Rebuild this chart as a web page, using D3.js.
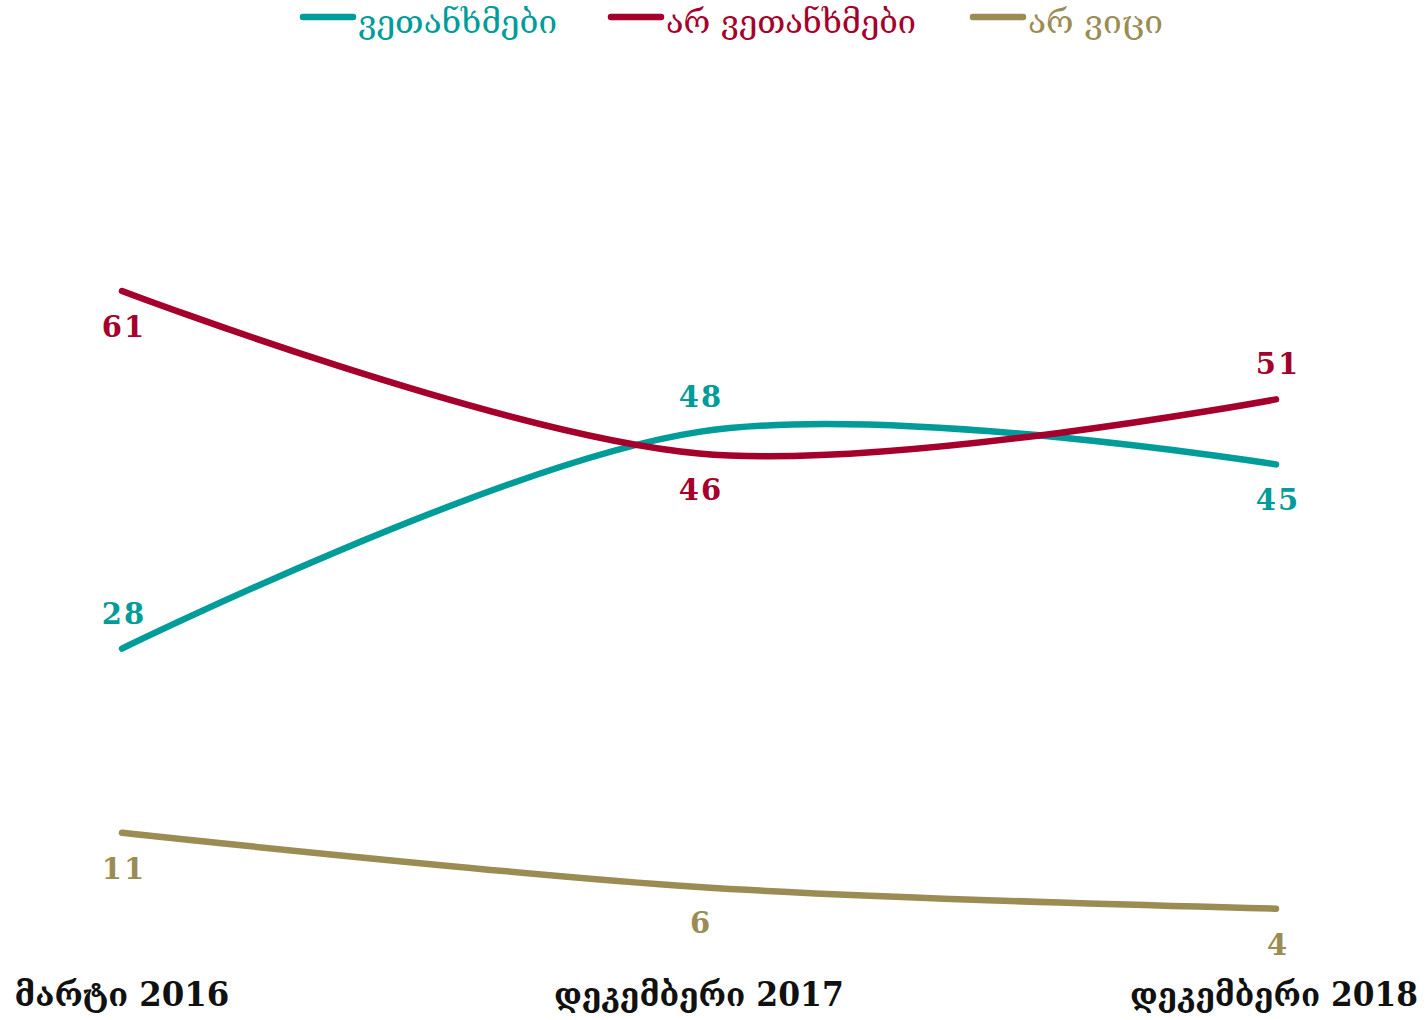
<!DOCTYPE html>
<html>
<head>
<meta charset="utf-8">
<script src="https://cdn.jsdelivr.net/npm/d3@7"></script>
<style>
  body { margin: 0; background: #fff; }
  svg { display: block; }
</style>
</head>
<body>
<svg id="chart" width="1427" height="1020"></svg>
<script>
// categories + series (percent)
var periods = ['მარტი 2016', 'დეკემბერი 2017', 'დეკემბერი 2018'];
var agree = [28, 48, 45];
var disagree = [61, 46, 51];
var dontKnow = [11, 6, 4];
// label placement: above or below the point
var agreePos = ['above', 'above', 'below'];
var disagreePos = ['below', 'below', 'above'];
var dontKnowPos = ['below', 'below', 'below'];

var seriesNames = ['ვეთანხმები', 'არ ვეთანხმები', 'არ ვიცი'];
var colors = ['#009c9a', '#a5002b', '#9a8c52'];

var svg = d3.select('#chart');

var x = d3.scalePoint()
  .domain(periods)
  .range([122, 1276]);

var y = d3.scaleLinear()
  .domain([0, 61])
  .range([952, 291]);

var line = d3.line()
  .x(function(d) { return x(d.p); })
  .y(function(d) { return y(d.v); })
  .curve(d3.curveCatmullRom.alpha(0.5));

var series = [
  {name: seriesNames[0], values: agree, pos: agreePos, color: colors[0]},
  {name: seriesNames[1], values: disagree, pos: disagreePos, color: colors[1]},
  {name: seriesNames[2], values: dontKnow, pos: dontKnowPos, color: colors[2]}
];

series.forEach(function(s) {
  var pts = s.values.map(function(v, i) { return {p: periods[i], v: v, pos: s.pos[i]}; });

  svg.append('path')
    .attr('d', line(pts))
    .attr('fill', 'none')
    .attr('stroke', s.color)
    .attr('stroke-width', 6.5)
    .attr('stroke-linecap', 'round');

  svg.selectAll(null)
    .data(pts)
    .enter().append('text')
    .attr('x', function(d) { return x(d.p) + 2; })
    .attr('y', function(d) { return y(d.v) + (d.pos == 'above' ? -25 : 46); })
    .attr('text-anchor', 'middle')
    .attr('font-family', 'DejaVu Serif')
    .attr('font-weight', 'bold')
    .attr('font-size', 29)
    .attr('letter-spacing', 2)
    .attr('fill', s.color)
    .text(function(d) { return d.v; });
});

// squeeze a text horizontally to a wanted width, anchored at its left edge
function squeeze(sel, left, top, width) {
  sel.each(function(d, i) {
    var t = d3.select(this);
    var w = this.getComputedTextLength();
    var sx = width[i] / w;
    t.attr('transform', 'translate(' + left[i] + ',' + top + ') scale(' + sx + ',1)');
  });
}

// x axis labels (condensed like the original)
var xLabelWidth = [215, 290, 288];
var xlab = svg.selectAll('.xlab')
  .data(periods)
  .enter().append('text')
  .attr('class', 'xlab')
  .attr('font-family', 'DejaVu Serif')
  .attr('font-weight', 'bold')
  .attr('font-size', 33)
  .attr('fill', '#111')
  .text(function(d) { return d; });
squeeze(xlab, periods.map(function(d, i) {
  return Math.min(x(d) - xLabelWidth[i] / 2, 1418 - xLabelWidth[i]);
}), 1006, xLabelWidth);

// legend
var legendX = [300, 608, 970];
var legendW = [199, 250, 135];
var leg = svg.selectAll('.leg')
  .data(series)
  .enter().append('g')
  .attr('class', 'leg')
  .attr('transform', function(d, i) { return 'translate(' + legendX[i] + ',17)'; });

leg.append('line')
  .attr('x1', 3).attr('x2', 53)
  .attr('stroke', function(d) { return d.color; })
  .attr('stroke-width', 6.5)
  .attr('stroke-linecap', 'round');

leg.append('text')
  .attr('x', 58)
  .attr('y', 16)
  .attr('textLength', function(d, i) { return legendW[i]; })
  .attr('lengthAdjust', 'spacingAndGlyphs')
  .attr('font-family', 'DejaVu Serif')
  .attr('font-size', 32)
  .attr('fill', function(d) { return d.color; })
  .text(function(d) { return d.name; });
</script>
</body>
</html>
